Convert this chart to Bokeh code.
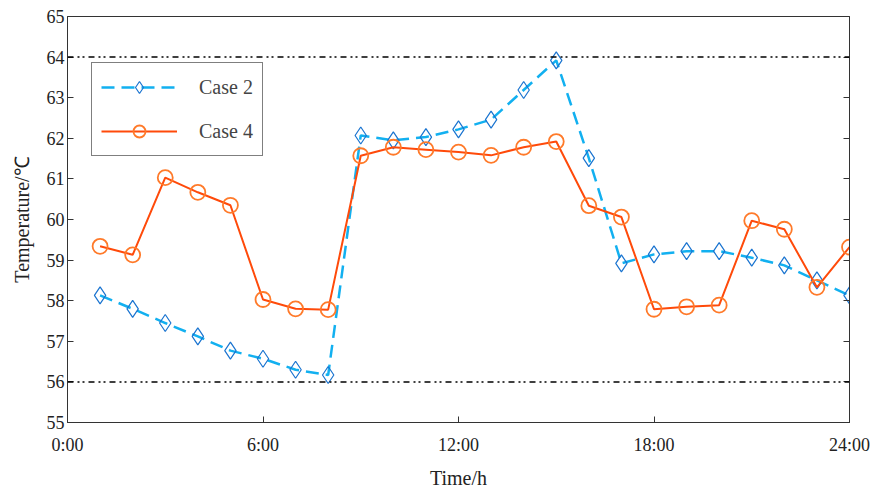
from bokeh.plotting import figure
from bokeh.models import Range1d, FixedTicker, LinearAxis, Legend, LegendItem, Span
from bokeh.embed import file_html
from bokeh.resources import INLINE

hours = list(range(1, 25))
case2 = [58.13, 57.80, 57.45, 57.12, 56.77, 56.57, 56.30, 56.17,
         62.07, 61.95, 62.03, 62.22, 62.46, 63.19, 63.92, 61.51,
         58.92, 59.14, 59.22, 59.22, 59.06, 58.87, 58.50, 58.13]
case4 = [59.34, 59.13, 61.03, 60.67, 60.35, 58.03, 57.80, 57.78,
         61.57, 61.78, 61.72, 61.66, 61.58, 61.78, 61.92, 60.34,
         60.06, 57.79, 57.85, 57.89, 59.97, 59.76, 58.33, 59.32]
x_ticks = [0, 6, 12, 18, 24]
x_tick_labels = ["0:00", "6:00", "12:00", "18:00", "24:00"]
y_ticks = list(range(55, 66))
limits = [56, 64]

FONT = "Liberation Serif"

p = figure(width=877, height=491, output_backend="svg", toolbar_location=None,
           x_range=Range1d(0, 24), y_range=Range1d(55, 65),
           min_border_left=67, min_border_right=28, min_border_top=16, min_border_bottom=69)
p.grid.visible = False
p.outline_line_color = "#333333"
p.outline_line_width = 1

for ax in (p.xaxis, p.yaxis):
    ax.major_tick_in = 6
    ax.major_tick_out = 0
    ax.minor_tick_in = 0
    ax.minor_tick_out = 0
    ax.axis_line_color = "#333333"
    ax.major_tick_line_color = "#333333"
    ax.major_label_text_font = FONT
    ax.major_label_text_font_size = "18px"
    ax.major_label_text_color = "#222222"
    ax.axis_label_text_font = FONT
    ax.axis_label_text_font_size = "20px"
    ax.axis_label_text_font_style = "normal"
    ax.axis_label_text_color = "#222222"

p.xaxis.ticker = FixedTicker(ticks=x_ticks)
p.xaxis.major_label_overrides = {t: l for t, l in zip(x_ticks, x_tick_labels)}
p.xaxis.axis_label = "Time/h"
p.xaxis.axis_label_standoff = 9
p.xaxis.major_label_standoff = 12
p.yaxis.ticker = FixedTicker(ticks=y_ticks)
p.yaxis.axis_label = "Temperature/℃"
p.yaxis.axis_label_standoff = 11
p.yaxis.major_label_standoff = 3

right = LinearAxis(ticker=FixedTicker(ticks=y_ticks),
                   major_label_overrides={t: "" for t in y_ticks},
                   major_tick_in=6, major_tick_out=0, minor_tick_in=0, minor_tick_out=0,
                   axis_line_color="#333333", major_tick_line_color="#333333")
p.add_layout(right, "right")

for v in limits:
    p.add_layout(Span(location=v, dimension="width", line_color="black",
                      line_width=1.5, line_dash="6 4 2 3 2 4"))

l2 = p.line(hours, case2, line_color="#12B0F0", line_width=2.5, line_dash="13 7")
m2 = p.scatter(hours, case2, marker="diamond", size=17, line_color="#1A74D0",
               line_width=1.2, fill_alpha=0)
l4 = p.line(hours, case4, line_color="#FF4A0A", line_width=2)
m4 = p.scatter(hours, case4, marker="circle", size=15, line_color="#FF7A2A",
               line_width=1.8, fill_alpha=0)

legend = Legend(items=[LegendItem(label="Case 2", renderers=[l2, m2]),
                       LegendItem(label="Case 4", renderers=[l4, m4])],
                location=(24, 266), border_line_color="black", border_line_width=1.2,
                label_text_font=FONT, label_text_font_size="20px",
                glyph_width=76, glyph_height=30, label_height=30,
                label_standoff=22, spacing=14, padding=9, margin=0,
                background_fill_alpha=1)
p.add_layout(legend, "center")

open("out.html", "w").write(file_html(p, INLINE))
